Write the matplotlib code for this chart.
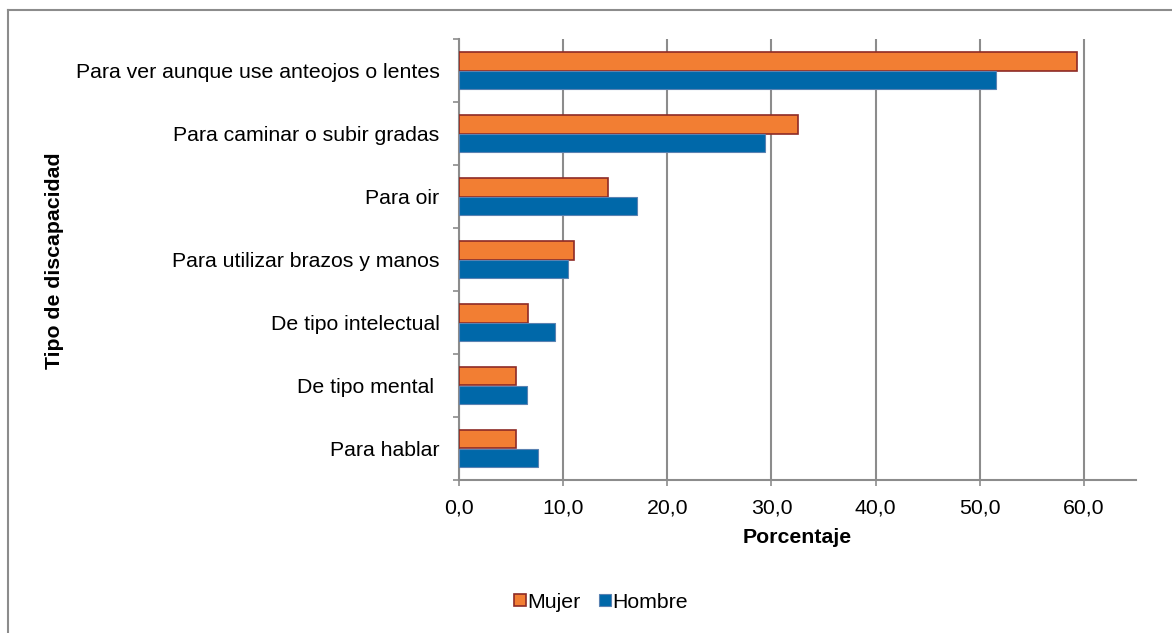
import numpy as np
import matplotlib
matplotlib.use("Agg")
import matplotlib.pyplot as plt
from matplotlib.lines import Line2D

plt.rcParams['font.family'] = ['Liberation Sans', 'DejaVu Sans']

# Data (top to bottom as drawn)
categorias = ['Para ver aunque use anteojos o lentes', 'Para caminar o subir gradas',
              'Para oir', 'Para utilizar brazos y manos', 'De tipo intelectual',
              'De tipo mental ', 'Para hablar']
mujer = [59.3, 32.5, 14.3, 11.0, 6.6, 5.5, 5.5]
hombre = [51.6, 29.4, 17.1, 10.5, 9.2, 6.5, 7.6]
xticks = [0, 10, 20, 30, 40, 50, 60]
xticklabels = ['0,0', '10,0', '20,0', '30,0', '40,0', '50,0', '60,0']

W, H = 1172, 633
fig = plt.figure(figsize=(W / 100, H / 100), dpi=100)
ax = fig.add_axes([459 / W, 1 - 480 / H, (1136 - 459) / W, (480 - 39) / H])

n = len(categorias)
y = np.arange(n)  # 0 at top after inversion
h = 0.30
ax.barh(y - h / 2, mujer, height=h, color='#F27E33', edgecolor='#8E2B26', linewidth=1.2,
        label='Mujer', zorder=3)
ax.barh(y + h / 2, hombre, height=h, color='#0068A9', edgecolor='#5A82B2', linewidth=0.8,
        label='Hombre', zorder=3)

ax.set_ylim(n - 0.5, -0.5)
ax.set_xlim(0, 65)

# grid and axes
ax.set_xticks(xticks)
ax.set_xticklabels(xticklabels, fontsize=15.3)
ax.xaxis.grid(True, color='#8C8C8C', linewidth=1.5, zorder=0)
ax.set_axisbelow(True)
ax.tick_params(axis='x', length=4, width=1.2, color='#8C8C8C', pad=9)

ax.set_yticks(np.arange(n + 1) - 0.5)
ax.set_yticklabels([])
ax.tick_params(axis='y', which='major', length=4, width=1.2, color='#8C8C8C')
ax.set_yticks(y, minor=True)
ax.set_yticklabels(categorias, minor=True, fontsize=15.3)
ax.tick_params(axis='y', which='minor', length=0, pad=14)

for s in ['top', 'right']:
    ax.spines[s].set_visible(False)
for s in ['left', 'bottom']:
    ax.spines[s].set_color('#8C8C8C')
    ax.spines[s].set_linewidth(1.5)

ax.set_xlabel('Porcentaje', fontsize=15.3, fontweight='bold', labelpad=8)
fig.text(55 / W, 1 - 261 / H, 'Tipo de discapacidad', rotation=90, fontsize=15.3,
         fontweight='bold', ha='center', va='center')

fig.legend(loc='center', bbox_to_anchor=(601 / W, 1 - 602 / H), ncol=2, frameon=False,
           fontsize=15.3, handlelength=0.55, handleheight=0.55, handletextpad=0.08,
           columnspacing=0.85, borderpad=0)

# outer chart border (only left and top visible)
fig.add_artist(Line2D([8 / W, 8 / W], [0, 1 - 10 / H], color='#8C8C8C', linewidth=1.5))
fig.add_artist(Line2D([8 / W, 1], [1 - 10 / H, 1 - 10 / H], color='#8C8C8C', linewidth=1.5))

fig.savefig('out.png', dpi=100)
